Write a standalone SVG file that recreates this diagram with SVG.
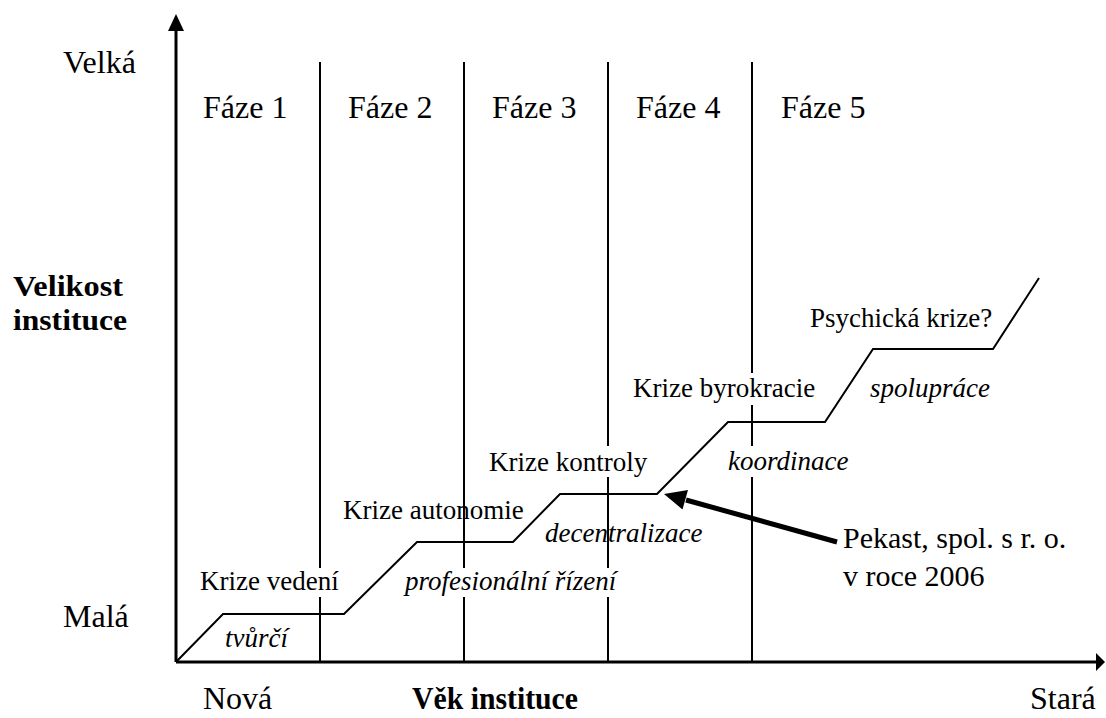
<svg xmlns="http://www.w3.org/2000/svg" width="1106" height="718" viewBox="0 0 1106 718">
<style>
text{font-family:"Liberation Serif","Times New Roman",serif;fill:#000}
.ax{font-size:32px}
.ph{font-size:32px}
.lb{font-size:27px}
.it{font-size:27px;font-style:italic}
.bd{font-size:30px;font-weight:bold}
.pk{font-size:30px}
.axis{stroke:#000;stroke-width:3;fill:none}
.div{stroke:#000;stroke-width:2;fill:none}
.bg{fill:#fff}
</style>
<rect width="1106" height="718" fill="#fff"/>
<g id="axes">
<line class="axis" x1="176" y1="662" x2="176" y2="28"/>
<polygon points="176,14 168,31 184,31" fill="#000"/>
<line class="axis" x1="176" y1="662" x2="1098" y2="662"/>
<polygon points="1105,662 1096,653 1096,671" fill="#000"/>
</g>
<g id="phase-lines">
<line class="div" x1="320" y1="62" x2="320" y2="662"/>
<line class="div" x1="464" y1="62" x2="464" y2="662"/>
<line class="div" x1="608" y1="62" x2="608" y2="662"/>
<line class="div" x1="752" y1="62" x2="752" y2="662"/>
</g>
<g id="axis-labels">
<text class="ax" x="63" y="73">Velká</text>
<text class="bd" x="13" y="296" textLength="110" lengthAdjust="spacingAndGlyphs">Velikost</text>
<text class="bd" x="13" y="330" textLength="114" lengthAdjust="spacingAndGlyphs">instituce</text>
<text class="ax" x="63" y="627">Malá</text>
<text class="ax" x="203" y="709">Nová</text>
<text class="bd" x="412" y="709" textLength="166" lengthAdjust="spacingAndGlyphs" style="font-size:32px">Věk instituce</text>
<text class="ax" x="1030" y="709">Stará</text>
</g>
<g id="phases">
<text class="ph" x="203" y="118">Fáze 1</text>
<text class="ph" x="348" y="118">Fáze 2</text>
<text class="ph" x="492" y="118">Fáze 3</text>
<text class="ph" x="636" y="118">Fáze 4</text>
<text class="ph" x="781" y="118">Fáze 5</text>
</g>
<g id="label-backgrounds">
<rect class="bg" x="198" y="568" width="141" height="29"/>
<rect class="bg" x="402" y="568" width="208" height="29"/>
<rect class="bg" x="487" y="446" width="168" height="31"/>
<rect class="bg" x="631" y="373" width="181" height="32"/>
<rect class="bg" x="726" y="446" width="123" height="31"/>
</g>
<g id="connectors">
<polyline fill="none" stroke="#000" stroke-width="2" points="176,662 223,614 344,614 417,542 513,542 560,494 657,494 728,422 825,422 873,349 993,349 1039,278"/>
<line x1="837" y1="542" x2="686" y2="500" stroke="#000" stroke-width="5"/>
<polygon points="664,494 688,490 682.5,509.5" fill="#000"/>
</g>
<g id="crisis-labels">
<text class="lb" x="200" y="590">Krize vedení</text>
<text class="it" x="225" y="647">tvůrčí</text>
<text class="lb" x="343" y="519">Krize autonomie</text>
<text class="it" x="405" y="590">profesionální řízení</text>
<text class="lb" x="489" y="471">Krize kontroly</text>
<text class="it" x="545" y="542">decentralizace</text>
<text class="lb" x="633" y="397">Krize byrokracie</text>
<text class="it" x="728" y="470">koordinace</text>
<text class="lb" x="810" y="327">Psychická krize?</text>
<text class="it" x="870" y="397">spolupráce</text>
</g>
<g id="note">
<text class="pk" x="843" y="548">Pekast, spol. s r. o.</text>
<text class="pk" x="843" y="586">v roce 2006</text>
</g>
</svg>
